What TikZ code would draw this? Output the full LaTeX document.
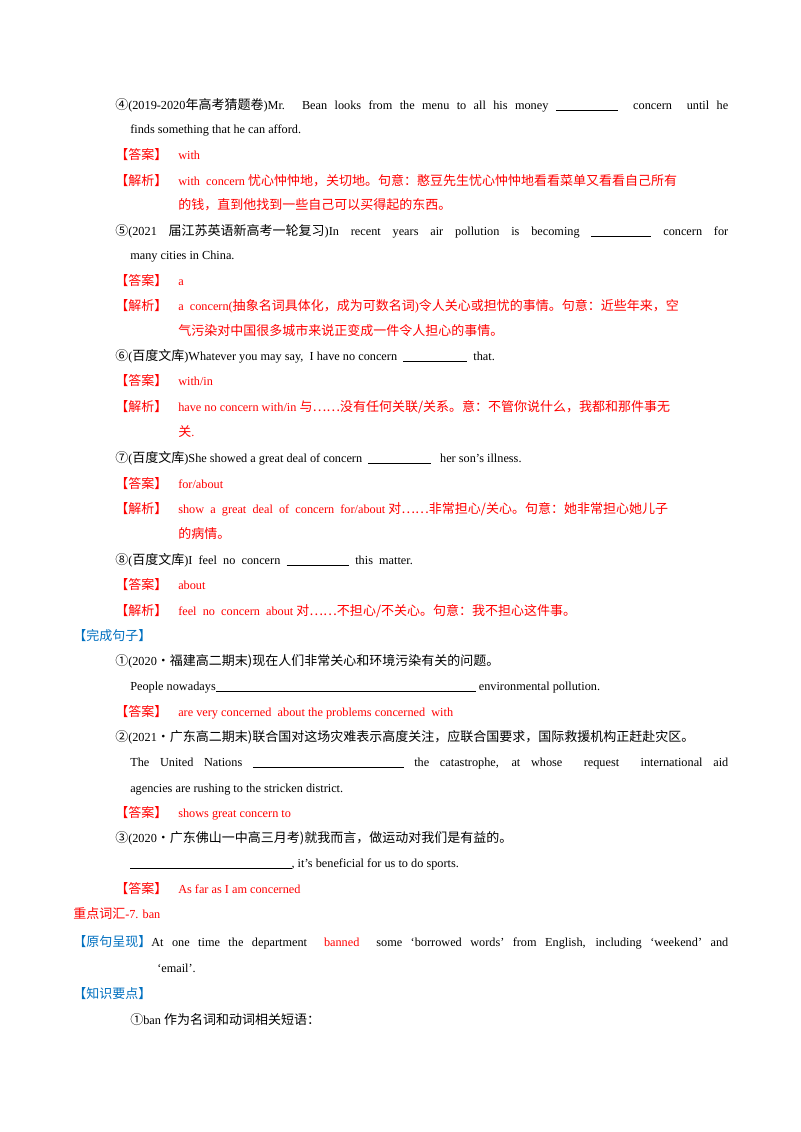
\documentclass[tikz,border=0pt]{standalone}
\usepackage{fontspec}
\setmainfont{Liberation Serif}
\newfontfamily\cjk[Scale=1.06]{Noto Sans CJK SC}
\definecolor{ansred}{HTML}{FF0000}
\definecolor{hdblue}{HTML}{0070C0}
\newcommand\C[1]{{\cjk #1}}
\newcommand\DA{\makebox[47.25pt][l]{\C{【答案】}}}
\newcommand\JX{\makebox[47.25pt][l]{\C{【解析】}}}
\newcommand\bl[1]{\rule[-1.5pt]{#1pt}{0.5pt}}
\newcommand\myline[3]{\node[txt] at (#1,#2) {#3};}
\newcommand\myj[4]{\node[txt] at (#1,#2) {\hbox to #3pt{#4}};}
\begin{document}
\begin{tikzpicture}[x=0.75pt,y=-0.75pt,
  txt/.style={anchor=base west,inner sep=0pt,font=\fontsize{9.2}{11}\selectfont}]
\useasboundingbox[fill=white] (0,0) rectangle (800,1132);
\myj{115}{109}{459.75}{\C{④}(2019-2020\C{年高考猜题卷})Mr. Bean looks from the menu to all his money \bl{47}\ \ concern\ \ until he}
\myline{130}{133}{finds something that he can afford.}
\myline{115}{159}{\color{ansred}\DA with}
\myline{115}{185}{\color{ansred}\JX with\ \ concern \C{忧心忡忡地，关切地。句意：憨豆先生忧心忡忡地看看菜单又看看自己所有}}
\myline{178}{209}{\color{ansred}\C{的钱，直到他找到一些自己可以买得起的东西。}}
\myj{115}{235}{459.75}{\C{⑤}(2021 \C{届江苏英语新高考一轮复习})In recent years air pollution is becoming \bl{45} concern for}
\myline{130}{259}{many cities in China.}
\myline{115}{285}{\color{ansred}\DA a}
\myline{115}{310}{\color{ansred}\JX a\ \ concern(\C{抽象名词具体化，成为可数名词})\C{令人关心或担忧的事情。句意：近些年来，空}}
\myline{178}{335}{\color{ansred}\C{气污染对中国很多城市来说正变成一件令人担心的事情。}}
\myline{115}{360}{\C{⑥}(\C{百度文库})Whatever you may say,\ \ I have no concern\ \ \bl{48}\ \ that.}
\myline{115}{385}{\color{ansred}\DA with/in}
\myline{115}{411}{\color{ansred}\JX have no concern with/in \C{与……没有任何关联/关系。意：不管你说什么，我都和那件事无}}
\myline{178}{436}{\color{ansred}\C{关}.}
\myline{115}{462}{\C{⑦}(\C{百度文库})She showed a great deal of concern\ \ \bl{47}\ \ \ her son’s illness.}
\myline{115}{488}{\color{ansred}\DA for/about}
\myline{115}{513}{\color{ansred}\JX show\ \ a\ \ great\ \ deal\ \ of\ \ concern\ \ for/about \C{对……非常担心/关心。句意：她非常担心她儿子}}
\myline{178}{538}{\color{ansred}\C{的病情。}}
\myline{115}{564}{\C{⑧}(\C{百度文库})I\ \ feel\ \ no\ \ concern\ \ \bl{47}\ \ this\ \ matter.}
\myline{115}{589}{\color{ansred}\DA about}
\myline{115}{615}{\color{ansred}\JX feel\ \ no\ \ concern\ \ about \C{对……不担心/不关心。句意：我不担心这件事。}}
\myline{73}{640}{\color{hdblue}\C{【完成句子】}}
\myline{115}{665}{\C{①}(2020\C{·福建高二期末)现在人们非常关心和环境污染有关的问题。}}
\myline{130}{690}{People nowadays\bl{195} environmental pollution.}
\myline{115}{716}{\color{ansred}\DA are very concerned\ \ about the problems concerned\ \ with}
\myline{115}{741}{\C{②}(2021\C{·广东高二期末)联合国对这场灾难表示高度关注，应联合国要求，国际救援机构正赶赴灾区。}}
\myj{130}{766}{448.5}{The United Nations \bl{113} the catastrophe, at whose\ \ request\ \ international aid}
\myline{130}{792}{agencies are rushing to the stricken district.}
\myline{115}{817}{\color{ansred}\DA shows great concern to}
\myline{115}{842}{\C{③}(2020\C{·广东佛山一中高三月考)就我而言，做运动对我们是有益的。}}
\myline{130}{867}{\bl{121}, it’s beneficial for us to do sports.}
\myline{115}{893}{\color{ansred}\DA As far as I am concerned}
\myline{73}{918}{\color{ansred}\C{重点词汇}-7. ban}
\myj{73}{946}{491.25}{{\color{hdblue}\C{【原句呈现】}}At one time the department\ \ {\color{ansred}banned}\ \ some ‘borrowed words’ from English, including ‘weekend’ and}
\myline{157}{972}{‘email’.}
\myline{73}{998}{\color{hdblue}\C{【知识要点】}}
\myline{130}{1024}{\C{①}ban \C{作为名词和动词相关短语：}}
\end{tikzpicture}
\end{document}
